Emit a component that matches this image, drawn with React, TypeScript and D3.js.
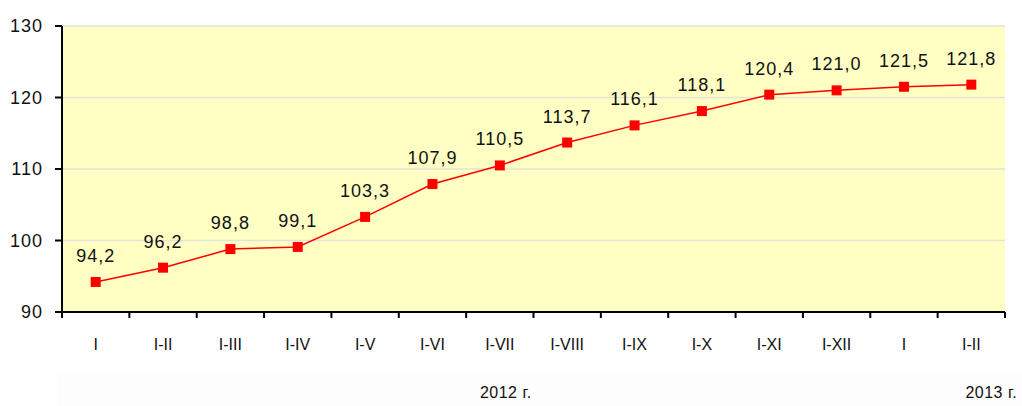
import React from "react";
import * as d3 from "d3";

const categories = ["I", "I-II", "I-III", "I-IV", "I-V", "I-VI", "I-VII", "I-VIII", "I-IX", "I-X", "I-XI", "I-XII", "I", "I-II"];
const values = [94.2, 96.2, 98.8, 99.1, 103.3, 107.9, 110.5, 113.7, 116.1, 118.1, 120.4, 121.0, 121.5, 121.8];
const yTicks = [90, 100, 110, 120, 130];
const yearLabels = [
  { text: "2012 г.", from: 0, to: 13 },
  { text: "2013 г.", from: 13, to: 13 },
];

const W = 1022;
const H = 406;
const MARGIN = { top: 26, right: 17, bottom: 94, left: 62 };
const FONT = "'Liberation Sans', Arial, sans-serif";

export default function App() {
  const innerW = W - MARGIN.left - MARGIN.right;
  const innerH = H - MARGIN.top - MARGIN.bottom;

  const x = d3.scaleBand<number>().domain(d3.range(categories.length)).range([0, innerW]);
  const y = d3.scaleLinear().domain([90, 130]).range([innerH, 0]);
  const cx = (i: number) => (x(i) ?? 0) + x.bandwidth() / 2;

  const line = d3
    .line<number>()
    .x((_, i) => cx(i))
    .y((d) => y(d));

  const fmt = (v: number) => v.toFixed(1).replace(".", ",");

  return (
    <svg width={W} height={H} style={{ position: "absolute", left: 0, top: 0 }}>
      <rect x={0} y={0} width={W} height={H} fill="#ffffff" />
      <rect x={57} y={373} width={W - 57} height={H - 373} fill="#fdfdfd" />
      <g transform={`translate(${MARGIN.left},${MARGIN.top})`} fontFamily={FONT}>
        <rect x={0} y={0} width={innerW} height={innerH} fill="#ffffc4" />
        {yTicks.filter((t) => t > 90).map((t) => (
          <line key={t} x1={0} x2={innerW} y1={y(t)} y2={y(t)} stroke="#e2e2d8" strokeWidth={1.5} />
        ))}
        {/* y axis */}
        <line x1={0} x2={0} y1={0} y2={innerH} stroke="#000" strokeWidth={2} />
        {yTicks.map((t) => (
          <g key={t}>
            <line x1={-7} x2={0} y1={y(t)} y2={y(t)} stroke="#000" strokeWidth={2} />
            <text x={-19} y={y(t)} dy="0.35em" textAnchor="end" fontSize={18} letterSpacing={1} fill="#111">
              {t}
            </text>
          </g>
        ))}
        {/* x axis */}
        <line x1={0} x2={innerW} y1={innerH} y2={innerH} stroke="#000" strokeWidth={2} />
        {d3.range(categories.length + 1).map((i) => {
          const xp = i < categories.length ? x(i) ?? 0 : innerW;
          return <line key={i} x1={xp} x2={xp} y1={innerH} y2={innerH + 6} stroke="#000" strokeWidth={2} />;
        })}
        {categories.map((c, i) => (
          <text key={i} x={cx(i)} y={innerH + 38} textAnchor="middle" fontSize={16} fill="#111">
            {c}
          </text>
        ))}
        {yearLabels.map((yl, i) => (
          <text
            key={i}
            x={i === 0 ? (cx(yl.from) + cx(yl.to - 1)) / 2 + 6 : cx(yl.to) + 20}
            y={innerH + 86}
            textAnchor="middle"
            fontSize={16}
            letterSpacing={0.5}
            fill="#111"
          >
            {yl.text}
          </text>
        ))}
        {/* series */}
        <path d={line(values) ?? ""} fill="none" stroke="#ff0000" strokeWidth={1.5} />
        {values.map((v, i) => (
          <rect key={i} x={cx(i) - 5} y={y(v) - 5} width={10} height={10} fill="#ff0000" />
        ))}
        {values.map((v, i) => (
          <text key={i} x={cx(i)} y={y(v) - 20} textAnchor="middle" fontSize={18} letterSpacing={1} fill="#111">
            {fmt(v)}
          </text>
        ))}
      </g>
    </svg>
  );
}
